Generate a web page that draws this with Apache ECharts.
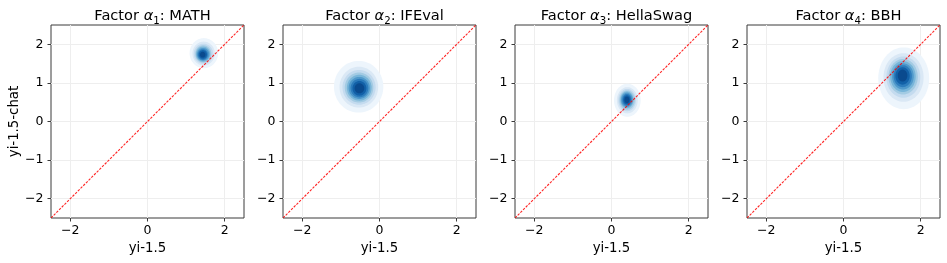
<!DOCTYPE html>
<html>
<head>
<meta charset="utf-8">
<script src="https://cdn.jsdelivr.net/npm/echarts@6/dist/echarts.min.js"></script>
<style>
html,body{margin:0;padding:0;background:#fff;}
#chart{width:947px;height:263px;}
</style>
</head>
<body>
<div id="chart"></div>
<script>
// ---- data ----
const factorIdx = ['1', '2', '3', '4'];
const benchmarks = ['MATH', 'IFEval', 'HellaSwag', 'BBH'];
const xTicks = [-2, 0, 2];
const yTicks = [-2, -1, 0, 1, 2];
const axisRange = [-2.5, 2.5];
const xName = 'yi-1.5';
const yName = 'yi-1.5-chat';
const diagonal = [[-2.5, -2.5, 2.5, 2.5]];

// density contour rings, outer -> inner: [cx, cy, rx, ry]
const ringsMATH = [
  [1.46, 1.77, 0.37, 0.39], [1.455, 1.76, 0.29, 0.31], [1.45, 1.755, 0.25, 0.26],
  [1.445, 1.75, 0.21, 0.225], [1.44, 1.745, 0.185, 0.195], [1.44, 1.74, 0.16, 0.165],
  [1.435, 1.735, 0.13, 0.14], [1.435, 1.735, 0.105, 0.11], [1.43, 1.73, 0.07, 0.075]
];
const ringsIFEval = [
  [-0.54, 0.90, 0.64, 0.67], [-0.535, 0.89, 0.50, 0.53], [-0.53, 0.885, 0.43, 0.45],
  [-0.53, 0.88, 0.37, 0.39], [-0.525, 0.875, 0.32, 0.335], [-0.525, 0.87, 0.275, 0.285],
  [-0.52, 0.865, 0.23, 0.24], [-0.52, 0.86, 0.18, 0.19], [-0.52, 0.86, 0.125, 0.13]
];
const ringsHellaSwag = [
  [0.41, 0.55, 0.345, 0.43], [0.41, 0.55, 0.27, 0.34], [0.405, 0.555, 0.23, 0.29],
  [0.405, 0.555, 0.20, 0.25], [0.40, 0.56, 0.17, 0.215], [0.40, 0.56, 0.15, 0.185],
  [0.40, 0.56, 0.12, 0.155], [0.40, 0.56, 0.095, 0.12], [0.40, 0.56, 0.065, 0.085]
];
const ringsBBH = [
  [1.56, 1.12, 0.66, 0.80], [1.555, 1.14, 0.52, 0.63], [1.55, 1.15, 0.44, 0.535],
  [1.545, 1.16, 0.38, 0.46], [1.54, 1.165, 0.33, 0.40], [1.54, 1.17, 0.28, 0.34],
  [1.535, 1.175, 0.235, 0.285], [1.53, 1.18, 0.185, 0.225], [1.53, 1.19, 0.125, 0.155]
];
const allRings = [ringsMATH, ringsIFEval, ringsHellaSwag, ringsBBH];

// ---- styles ----
const bandColors = ['#edf5fc', '#dae8f5', '#c4dbef', '#a3cbe3', '#78b5d9',
                    '#5099cb', '#2d7cbc', '#1260a7', '#0a4a8e'];
const panelLefts = [51, 283, 515, 747];
const panelTop = 25, panelSize = 193;
const FONT = 'DejaVu Sans';

function fmt(v) { return v < 0 ? '\u2212' + Math.abs(v) : String(v); }

const chart = echarts.init(document.getElementById('chart'), null, {renderer: 'canvas'});

const grid = [], xAxis = [], yAxis = [], series = [], title = [];
for (let i = 0; i < 4; i++) {
  grid.push({left: panelLefts[i], top: panelTop, width: panelSize, height: panelSize,
    show: true, borderColor: '#3a3a3a', borderWidth: 1, backgroundColor: '#fff', containLabel: false});
  title.push({
    text: '{n|Factor }{a|α}{s|' + factorIdx[i] + '}{n|: ' + benchmarks[i] + '}',
    left: panelLefts[i] + panelSize / 2, top: 2, textAlign: 'center',
    textStyle: {
      fontWeight: 'normal',
      rich: {
        n: {fontFamily: FONT, fontSize: 14.6, fontWeight: 'normal', color: '#000', lineHeight: 19},
        a: {fontFamily: FONT, fontSize: 14.6, fontWeight: 'normal', fontStyle: 'italic', color: '#000', lineHeight: 19},
        s: {fontFamily: FONT, fontSize: 10.2, fontWeight: 'normal', color: '#000', lineHeight: 10, verticalAlign: 'bottom'}
      }
    }
  });
  xAxis.push({
    type: 'value', gridIndex: i, min: axisRange[0], max: axisRange[1], position: 'bottom',
    name: xName, nameLocation: 'middle', nameGap: 23,
    nameTextStyle: {fontFamily: FONT, fontSize: 13.3, color: '#000'},
    axisLine: {show: false, onZero: false},
    axisTick: {show: true, customValues: xTicks, length: 3.5, lineStyle: {color: '#3a3a3a', width: 1}},
    axisLabel: {customValues: xTicks, formatter: fmt, margin: 6, fontFamily: FONT, fontSize: 12.5, color: '#000'},
    splitLine: {show: true, lineStyle: {color: '#eeeeee', width: 1}}
  });
  yAxis.push({
    type: 'value', gridIndex: i, min: axisRange[0], max: axisRange[1], position: 'left',
    name: i === 0 ? yName : '', nameLocation: 'middle', nameGap: 28,
    nameTextStyle: {fontFamily: FONT, fontSize: 13.3, color: '#000'},
    axisLine: {show: false, onZero: false},
    axisTick: {show: true, customValues: yTicks, length: 3.5, lineStyle: {color: '#3a3a3a', width: 1}},
    axisLabel: {customValues: yTicks, formatter: fmt, margin: 7.5, fontFamily: FONT, fontSize: 12.5, color: '#000'},
    splitLine: {show: true, lineStyle: {color: '#eeeeee', width: 1}}
  });
  series.push({
    type: 'custom', xAxisIndex: i, yAxisIndex: i, z: 2, silent: true,
    clip: true,
    data: allRings[i].map((r, k) => [r[0], r[1], r[2], r[3], k]),
    renderItem: function (params, api) {
      const c = api.coord([api.value(0), api.value(1)]);
      const s = api.size([api.value(2), api.value(3)]);
      const pts = [];
      const N = 72;
      for (let k = 0; k < N; k++) {
        const t = 2 * Math.PI * k / N;
        pts.push([c[0] + s[0] * Math.cos(t), c[1] + s[1] * Math.sin(t)]);
      }
      return {type: 'polygon', shape: {points: pts},
        style: {fill: bandColors[api.value(4)], stroke: null}};
    }
  });
  series.push({
    type: 'custom', xAxisIndex: i, yAxisIndex: i, z: 5, silent: true, clip: true,
    data: diagonal,
    renderItem: function (params, api) {
      const p1 = api.coord([api.value(0), api.value(1)]);
      const p2 = api.coord([api.value(2), api.value(3)]);
      return {type: 'line', shape: {x1: p1[0], y1: p1[1], x2: p2[0], y2: p2[1]},
        style: {stroke: 'rgba(255,0,0,0.85)', lineWidth: 1.1, lineDash: [2.5, 1.3], fill: null}};
    }
  });
}

chart.setOption({animation: false, backgroundColor: '#fff', title, grid, xAxis, yAxis, series});
</script>
</body>
</html>
